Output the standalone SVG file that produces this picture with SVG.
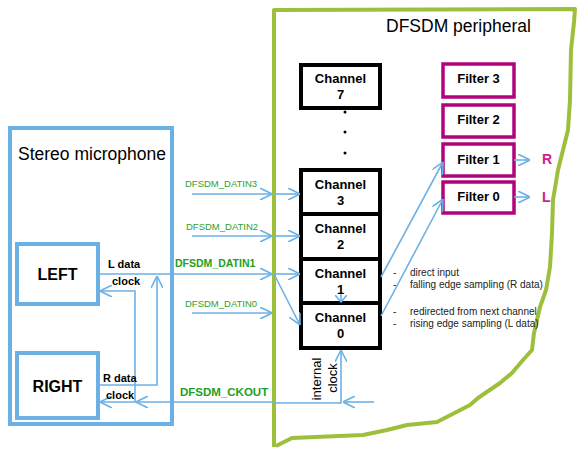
<svg xmlns="http://www.w3.org/2000/svg" width="584" height="452" viewBox="0 0 584 452">
<style>
text{font-family:"Liberation Sans",Arial,sans-serif}
.mic{fill:none;stroke:#6CB1E6;stroke-width:4}
.ch{fill:#fff;stroke:#000;stroke-width:4}
.flt{fill:#fff;stroke:#B1047C;stroke-width:3.5}
.lbl{font-size:13px;font-weight:bold;text-anchor:middle;fill:#000}
.con{fill:none;stroke:#6CB1E6;stroke-width:1.6}
.gs{font-size:9.5px;fill:#2EA12E}
.gb{font-size:10.5px;font-weight:bold;fill:#23A023}
.sm{font-size:11px;font-weight:bold;fill:#000}
.note{font-size:10px;fill:#222}
.ro{font-size:14px;font-weight:bold;fill:#D41C8C}
</style>
<defs>
<marker id="ar" viewBox="0 0 12 12" refX="12" refY="6" markerWidth="12" markerHeight="12" markerUnits="userSpaceOnUse" orient="auto">
<path d="M0,0 L12,6 L0,12" fill="none" stroke="#6CB1E6" stroke-width="1.6"/>
</marker>
<marker id="ars" viewBox="0 0 8 12" refX="7" refY="6" markerWidth="8" markerHeight="12" markerUnits="userSpaceOnUse" orient="auto">
<path d="M0,0 L7,6 L0,12" fill="none" stroke="#6CB1E6" stroke-width="1.6"/>
</marker>
</defs>

<g id="dfsdm-peripheral">
<path d="M274,447 L274,10 L575,9 L574,22 L571,50 L570,100 L568,130 L563,150 L558,170 L553,200 L552,233 L550,267 L546,290 L540,307 L534,333 L532,350 L523,360 L512,373 L500,383 L478,398 L470,405 L437,422 L407,425 L387,430 L363,435 L292,438 L276,446" fill="none" stroke="#9DC03C" stroke-width="4" stroke-linejoin="round"/>
<text x="386" y="32" style="font-size:17.5px;fill:#000">DFSDM peripheral</text>
</g>

<g id="stereo-microphone">
<rect class="mic" x="10" y="128" width="162" height="296"/>
<text x="18" y="160" style="font-size:17.5px;fill:#000">Stereo microphone</text>
</g>
<g id="left">
<rect class="mic" x="17" y="244" width="81" height="60"/>
<text x="57.5" y="280" style="font-size:16px;font-weight:bold;text-anchor:middle">LEFT</text>
</g>
<g id="right">
<rect class="mic" x="17" y="353" width="81" height="65"/>
<text x="57.5" y="392" style="font-size:16px;font-weight:bold;text-anchor:middle">RIGHT</text>
</g>

<g id="channel7">
<rect class="ch" x="301" y="65" width="79" height="43"/>
<text class="lbl" x="340.5" y="83">Channel</text>
<text class="lbl" x="340.5" y="99">7</text>
</g>
<g id="dots">
<circle cx="345" cy="112" r="1.5" fill="#000"/>
<circle cx="345" cy="132" r="1.5" fill="#000"/>
<circle cx="345" cy="153" r="1.5" fill="#000"/>
</g>
<g id="channel3">
<rect class="ch" x="301" y="170" width="79" height="44"/>
<text class="lbl" x="340.5" y="189">Channel</text>
<text class="lbl" x="340.5" y="205">3</text>
</g>
<g id="channel2">
<rect class="ch" x="301" y="214" width="79" height="45"/>
<text class="lbl" x="340.5" y="233">Channel</text>
<text class="lbl" x="340.5" y="249">2</text>
</g>
<g id="channel1">
<rect class="ch" x="301" y="259" width="79" height="44"/>
<text class="lbl" x="340.5" y="278">Channel</text>
<text class="lbl" x="340.5" y="294">1</text>
</g>
<g id="channel0">
<rect class="ch" x="301" y="303" width="79" height="45"/>
<text class="lbl" x="340.5" y="322">Channel</text>
<text class="lbl" x="340.5" y="338">0</text>
</g>

<g id="filter3">
<rect class="flt" x="443" y="64" width="71" height="33"/>
<text class="lbl" x="478.5" y="83">Filter 3</text>
</g>
<g id="filter2">
<rect class="flt" x="443" y="105" width="71" height="32"/>
<text class="lbl" x="478.5" y="124">Filter 2</text>
</g>
<g id="filter1">
<rect class="flt" x="443" y="144" width="71" height="32"/>
<text class="lbl" x="478.5" y="164">Filter 1</text>
</g>
<g id="filter0">
<rect class="flt" x="443" y="182" width="71" height="31"/>
<text class="lbl" x="478.5" y="201">Filter 0</text>
</g>
<g id="outputs">
<text class="ro" x="542" y="164">R</text>
<text class="ro" x="542" y="202">L</text>
</g>

<g id="connectors">
<path class="con" d="M192,194 L272,194" marker-end="url(#ar)"/>
<path class="con" d="M274,194 L300,194" marker-end="url(#ar)"/>
<path class="con" d="M192,236 L272,236" marker-end="url(#ar)"/>
<path class="con" d="M274,236 L300,236" marker-end="url(#ar)"/>
<path class="con" d="M98,274 L272,274" marker-end="url(#ar)"/>
<path class="con" d="M274,274 L300,274" marker-end="url(#ar)"/>
<path class="con" d="M274,274 L300,325" marker-end="url(#ar)"/>
<path class="con" d="M192,313 L272,313" marker-end="url(#ar)"/>
<path class="con" d="M274,402 L136,402" marker-end="url(#ar)"/>
<path class="con" d="M136,402 L100,402" marker-end="url(#ar)"/>
<path class="con" d="M135,402 L135,291 L100,291" marker-end="url(#ar)"/>
<path class="con" d="M98,385 L157,385 L157,276" marker-end="url(#ar)"/>
<path class="con" d="M381,277 L443,162" marker-end="url(#ar)"/>
<path class="con" d="M381,316 L443,199" marker-end="url(#ar)"/>
<path class="con" d="M514,160 L530,160" marker-end="url(#ar)"/>
<path class="con" d="M514,197 L530,197" marker-end="url(#ar)"/>
<path class="con" d="M341,294 L341,302" marker-end="url(#ars)"/>
<path class="con" d="M374,402 L343,402" marker-end="url(#ar)"/>
<path class="con" d="M274,403 L341,403 L341,350" marker-end="url(#ar)"/>
</g>

<g id="labels">
<text class="gs" x="185" y="187">DFSDM_DATIN3</text>
<text class="gs" x="186" y="230">DFSDM_DATIN2</text>
<text class="gb" x="175" y="267">DFSDM_DATIN1</text>
<text class="gs" x="185" y="307">DFSDM_DATIN0</text>
<text class="gb" x="180" y="396" style="font-size:11.5px">DFSDM_CKOUT</text>
<text class="sm" x="108" y="268">L data</text>
<text class="sm" x="112" y="285">clock</text>
<text class="sm" x="103" y="382">R data</text>
<text class="sm" x="106" y="399">clock</text>
<text x="321" y="379" transform="rotate(-90 321 379)" style="font-size:13px;text-anchor:middle;fill:#000">internal</text>
<text x="337" y="378" transform="rotate(-90 337 378)" style="font-size:13px;text-anchor:middle;fill:#000">clock</text>
<text class="note" x="393" y="276">-</text>
<text class="note" x="410" y="276">direct input</text>
<text class="note" x="393" y="288">-</text>
<text class="note" x="410" y="288">falling edge sampling (R data)</text>
<text class="note" x="393" y="315">-</text>
<text class="note" x="410" y="315">redirected from next channel</text>
<text class="note" x="393" y="327">-</text>
<text class="note" x="410" y="327">rising edge sampling (L data)</text>
</g>
</svg>
